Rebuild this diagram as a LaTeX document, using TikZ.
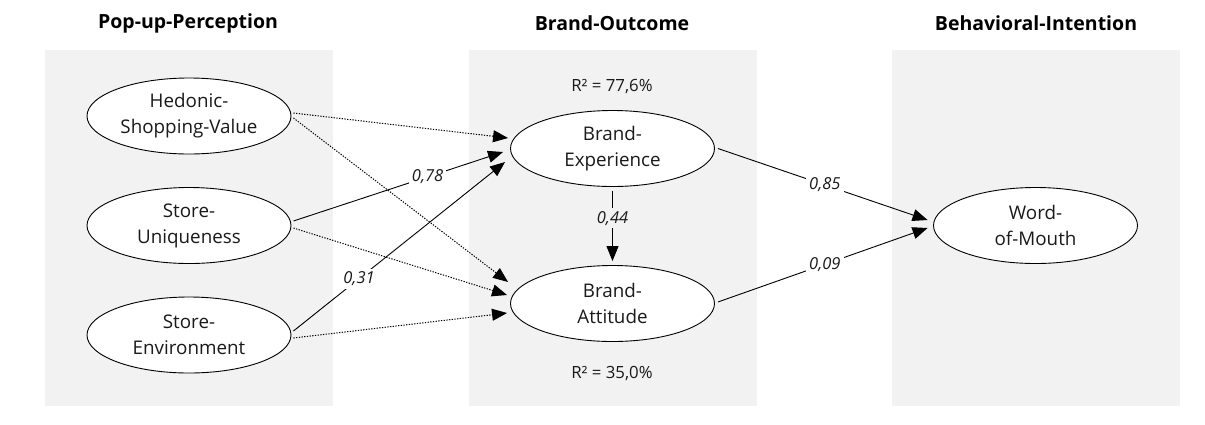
\documentclass[tikz,border=0pt]{standalone}
\usepackage{fontspec}
\setmainfont{Open Sans}
\usetikzlibrary{shapes.geometric,arrows.meta,calc}
\definecolor{panel}{HTML}{F2F2F2}
\definecolor{txt}{HTML}{1A1A1A}
\begin{document}
\begin{tikzpicture}[x=1pt,y=-1pt,
  panelbox/.style={fill=panel,draw=none},
  construct/.style={ellipse,draw=black,fill=white,line width=0.9pt,minimum width=204pt,minimum height=76pt,inner sep=0pt,align=center,font=\fontsize{18.8}{26}\selectfont,text=txt},
  title/.style={font=\fontsize{19.5}{22}\selectfont\bfseries,text=black},
  rsq/.style={font=\fontsize{16.8}{20}\selectfont,text=txt},
  path/.style={line width=0.9pt,-{Triangle[length=15pt,width=12pt]}},
  ns/.style={path,line width=1pt,dash pattern=on 1.3pt off 1.4pt},
  coef/.style={font=\fontsize{16.5}{20}\selectfont\itshape,text=txt,fill=white,inner sep=3pt}
]
\useasboundingbox (0,0) rectangle (1205,424);
\fill[panelbox] (45,50) rectangle (333,406);
\fill[panelbox] (469,50) rectangle (757,406);
\fill[panelbox] (892,50) rectangle (1180,406);
\node[title] (t1) at (188,23) {Pop-up-Perception};
\node[title] (t2) at (612,23) {Brand-Outcome};
\node[title] (t3) at (1036,23) {Behavioral-Intention};
\node[rsq] (r1) at (612,86) {R² = 77,6\%};
\node[rsq] (r2) at (612,373) {R² = 35,0\%};
\node[construct] (hsv) at (189,116) {Hedonic-\\Shopping-Value};
\node[construct] (su) at (189,225.5) {Store-\\Uniqueness};
\node[construct] (se) at (189,335) {Store-\\Environment};
\node[construct] (be) at (612.5,148.5) {Brand-\\Experience};
\node[construct] (ba) at (612.5,303.5) {Brand-\\Attitude};
\node[construct] (wom) at (1035.5,225.5) {Word-\\of-Mouth};
\draw[ns] ($(hsv.east)+(2,-3)$) -- ($(be.west)+(-2,-10.5)$);
\draw[ns] ($(hsv.east)+(2,2)$) -- ($(ba.west)+(-2,-21.5)$);
\draw[ns] ($(su.east)+(2,2.5)$) -- ($(ba.west)+(-3,-8.5)$);
\draw[ns] ($(se.east)+(2,3)$) -- ($(ba.west)+(-3,9.5)$);
\draw[path] ($(su.east)+(2,-4.5)$) -- node[coef,pos=0.64] (c1) {0,78} ($(be.west)+(-7,3.5)$);
\draw[path] ($(se.east)+(2,-4)$) -- node[coef,pos=0.31] (c2) {0,31} ($(be.west)+(-5,13.5)$);
\draw[path] ($(be.south)+(0,4)$) -- node[coef,pos=0.39,fill=panel] (c3) {0,44} ($(ba.north)+(0,-4)$);
\draw[path] ($(be.east)+(3,0)$) -- node[coef,pos=0.51] (c4) {0,85} ($(wom.west)+(-5.5,-5.5)$);
\draw[path] ($(ba.east)+(3,-1.5)$) -- node[coef,pos=0.51] (c5) {0,09} ($(wom.west)+(-5.5,2.5)$);
\end{tikzpicture}
\end{document}
